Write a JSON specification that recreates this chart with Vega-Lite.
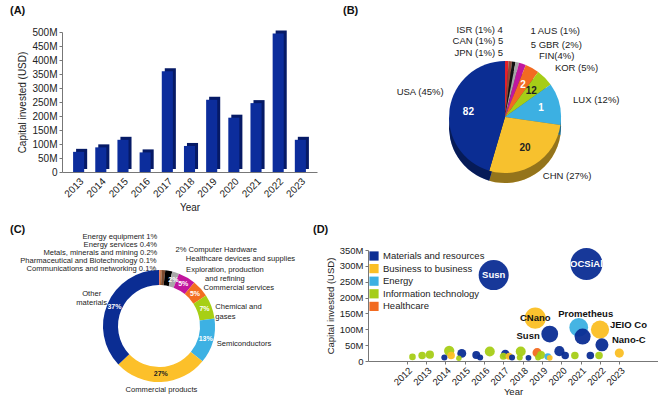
{
  "$schema": "https://vega.github.io/schema/vega-lite/v6.json",
  "background": "white",
  "padding": {"left": 10, "top": 5, "right": 0, "bottom": 0},
  "columns": 2,
  "spacing": {"row": 48, "column": 51},
  "bounds": "flush",
  "resolve": {
    "scale": {"color": "independent", "theta": "independent", "size": "independent", "x": "independent", "y": "independent"},
    "legend": {"color": "independent", "size": "independent"}
  },
  "datasets": {
    "bars": [
      {"year": "2013", "capital": 72},
      {"year": "2014", "capital": 88},
      {"year": "2015", "capital": 115},
      {"year": "2016", "capital": 70},
      {"year": "2017", "capital": 360},
      {"year": "2018", "capital": 93},
      {"year": "2019", "capital": 258},
      {"year": "2020", "capital": 194},
      {"year": "2021", "capital": 246},
      {"year": "2022", "capital": 495},
      {"year": "2023", "capital": 115}
    ],
    "countries": [
      {"country": "JPN", "share": 1, "deals": 5, "label": "JPN (1%)"},
      {"country": "CAN", "share": 1, "deals": 5, "label": "CAN (1%)"},
      {"country": "ISR", "share": 1, "deals": 4, "label": "ISR (1%)"},
      {"country": "AUS", "share": 1, "deals": 1, "label": "AUS (1%)"},
      {"country": "GBR", "share": 2, "deals": 5, "label": "GBR (2%)"},
      {"country": "FIN", "share": 4, "deals": 2, "label": "FIN(4%)"},
      {"country": "KOR", "share": 5, "deals": 12, "label": "KOR (5%)"},
      {"country": "LUX", "share": 12, "deals": 1, "label": "LUX (12%)"},
      {"country": "CHN", "share": 27, "deals": 20, "label": "CHN (27%)"},
      {"country": "USA", "share": 45, "deals": 82, "label": "USA (45%)"}
    ],
    "sectors": [
      {"sector": "Communications and networking", "share": 0.1, "label": "Communications and networking"},
      {"sector": "Pharmaceutical and Biotechnology", "share": 0.1, "label": "Pharmaceutical and Biotechnology"},
      {"sector": "Metals, minerals and mining", "share": 0.2, "label": "Metals, minerals and mining"},
      {"sector": "Energy services", "share": 0.4, "label": "Energy services"},
      {"sector": "Energy equipment", "share": 1, "label": "Energy equipment"},
      {"sector": "Computer Hardware", "share": 2, "label": "Computer Hardware"},
      {"sector": "Healthcare devices and supplies", "share": 2, "label": "Healthcare devices and supplies"},
      {"sector": "Exploration, production and refining", "share": 5, "label": "Exploration, production\nand refining"},
      {"sector": "Commercial services", "share": 5, "label": "Commercial services"},
      {"sector": "Chemical and gases", "share": 7, "label": "Chemical and\ngases"},
      {"sector": "Semiconductors", "share": 13, "label": "Semiconductors"},
      {"sector": "Commercial products", "share": 27, "label": "Commercial products"},
      {"sector": "Other materials", "share": 37, "label": "Other\nmaterials"}
    ],
    "deals": [
      {"t": 2016.5, "capital": 271, "sector": "Materials and resources", "name": "Susn"},
      {"t": 2021.3, "capital": 306, "sector": "Materials and resources", "name": "OCSiAl"},
      {"t": 2018.65, "capital": 135, "sector": "Business to business", "name": "CNano"},
      {"t": 2019.4, "capital": 85, "sector": "Materials and resources", "name": "Susn"},
      {"t": 2020.9, "capital": 106, "sector": "Energy", "name": "Prometheus"},
      {"t": 2021.1, "capital": 77, "sector": "Materials and resources", "name": ""},
      {"t": 2022.0, "capital": 99, "sector": "Business to business", "name": "JEIO Co"},
      {"t": 2022.1, "capital": 51, "sector": "Materials and resources", "name": "Nano-C"},
      {"t": 2023.0, "capital": 25, "sector": "Business to business", "name": ""},
      {"t": 2012.3, "capital": 13, "sector": "Information technology", "name": ""},
      {"t": 2012.8, "capital": 17, "sector": "Information technology", "name": ""},
      {"t": 2013.2, "capital": 20, "sector": "Information technology", "name": ""},
      {"t": 2013.95, "capital": 11, "sector": "Materials and resources", "name": ""},
      {"t": 2014.2, "capital": 32, "sector": "Information technology", "name": ""},
      {"t": 2014.3, "capital": 17, "sector": "Business to business", "name": ""},
      {"t": 2014.7, "capital": 9, "sector": "Information technology", "name": ""},
      {"t": 2014.85, "capital": 24, "sector": "Materials and resources", "name": ""},
      {"t": 2015.6, "capital": 19, "sector": "Materials and resources", "name": ""},
      {"t": 2015.8, "capital": 11, "sector": "Materials and resources", "name": ""},
      {"t": 2016.3, "capital": 30, "sector": "Information technology", "name": ""},
      {"t": 2017.0, "capital": 15, "sector": "Information technology", "name": ""},
      {"t": 2017.1, "capital": 22, "sector": "Materials and resources", "name": ""},
      {"t": 2017.3, "capital": 15, "sector": "Business to business", "name": ""},
      {"t": 2017.45, "capital": 11, "sector": "Materials and resources", "name": ""},
      {"t": 2017.9, "capital": 30, "sector": "Information technology", "name": ""},
      {"t": 2017.85, "capital": 11, "sector": "Information technology", "name": ""},
      {"t": 2018.3, "capital": 10, "sector": "Materials and resources", "name": ""},
      {"t": 2018.75, "capital": 26, "sector": "Healthcare", "name": ""},
      {"t": 2018.8, "capital": 11, "sector": "Information technology", "name": ""},
      {"t": 2018.95, "capital": 19, "sector": "Information technology", "name": ""},
      {"t": 2019.3, "capital": 14, "sector": "Energy", "name": ""},
      {"t": 2019.4, "capital": 10, "sector": "Business to business", "name": ""},
      {"t": 2019.9, "capital": 31, "sector": "Materials and resources", "name": ""},
      {"t": 2020.2, "capital": 17, "sector": "Materials and resources", "name": ""},
      {"t": 2020.7, "capital": 17, "sector": "Information technology", "name": ""},
      {"t": 2021.5, "capital": 17, "sector": "Materials and resources", "name": ""},
      {"t": 2021.95, "capital": 17, "sector": "Information technology", "name": ""}
    ]
  },
  "concat": [
    {
      "width": 255,
      "height": 140,
      "title": {"text": "(A)", "dx": -52, "offset": 11},
      "data": {"name": "bars"},
      "encoding": {
        "x": {
          "field": "year", "type": "ordinal",
          "scale": {"paddingInner": 0.5, "paddingOuter": 0.5},
          "axis": {"labelAngle": -45, "title": "Year", "ticks": false, "labelPadding": 4, "labelOverlap": false}
        },
        "y": {
          "field": "capital", "type": "quantitative",
          "scale": {"domain": [0, 500]},
          "axis": {
            "values": [0, 50, 100, 150, 200, 250, 300, 350, 400, 450, 500],
            "labelExpr": "datum.value == 0 ? '0' : datum.value + 'M'",
            "title": "Capital invested (USD)", "tickSize": 3
          }
        }
      },
      "layer": [
        {"mark": {"type": "bar", "color": "#061a66", "xOffset": 3, "yOffset": -3}},
        {"mark": {"type": "bar", "color": "#0c2d9c"}}
      ]
    },
    {
      "width": 274,
      "height": 170,
      "title": {"text": "(B)", "dx": -25, "offset": 8},
      "data": {"name": "countries"},
      "transform": [
        {"calculate": "datum.label + '  ' + datum.deals", "as": "leftText"},
        {"calculate": "datum.deals + '  ' + datum.label", "as": "rightText"}
      ],
      "encoding": {
        "theta": {"field": "share", "type": "quantitative", "stack": true},
        "order": {"field": "share", "type": "quantitative", "sort": "ascending"}
      },
      "layer": [
        {
          "mark": {"type": "arc", "outerRadius": 56, "yOffset": 10},
          "encoding": {
            "color": {
              "field": "country", "type": "nominal", "legend": null,
              "scale": {
                "domain": ["JPN", "CAN", "ISR", "AUS", "GBR", "FIN", "KOR", "LUX", "CHN", "USA"],
                "range": ["#e3202a", "#8c4a3a", "#111111", "#a5a5a5", "#c0179f", "#f26b21", "#a6cd17", "#3cb0e2", "#f7c12e", "#0b2d93"]
              }
            }
          }
        },
        {"mark": {"type": "arc", "outerRadius": 56, "yOffset": 10, "color": "black", "opacity": 0.4}},
        {
          "mark": {"type": "arc", "outerRadius": 56},
          "encoding": {
            "color": {"field": "country", "type": "nominal", "legend": null}
          }
        },
        {
          "mark": {"type": "text", "radius": 37, "fontSize": 10, "fontWeight": "bold"},
          "encoding": {
            "text": {"condition": {"test": "datum.share >= 4", "field": "deals", "type": "nominal"}, "value": ""},
            "color": {"condition": {"test": "datum.country == 'CHN' || datum.country == 'KOR'", "value": "#222222"}, "value": "white"}
          }
        },
        {
          "mark": {"type": "text", "radius": 70, "align": "left", "fontSize": 9.5},
          "encoding": {
            "text": {"condition": {"test": "datum.share >= 4 && datum.country != 'USA'", "field": "label", "type": "nominal"}, "value": ""}
          }
        },
        {
          "mark": {"type": "text", "radius": 62, "align": "right", "dy": -16, "fontSize": 9.5},
          "encoding": {
            "text": {"condition": {"test": "datum.country == 'USA'", "field": "label", "type": "nominal"}, "value": ""}
          }
        },
        {
          "mark": {"type": "text", "radius": 64, "align": "right", "dx": -4, "fontSize": 9.5},
          "encoding": {
            "text": {"condition": {"test": "datum.country == 'JPN'", "field": "leftText", "type": "nominal"}, "value": ""}
          }
        },
        {
          "mark": {"type": "text", "radius": 76, "align": "right", "dx": -9, "fontSize": 9.5},
          "encoding": {
            "text": {"condition": {"test": "datum.country == 'CAN'", "field": "leftText", "type": "nominal"}, "value": ""}
          }
        },
        {
          "mark": {"type": "text", "radius": 88, "align": "right", "dx": -16, "fontSize": 9.5},
          "encoding": {
            "text": {"condition": {"test": "datum.country == 'ISR'", "field": "leftText", "type": "nominal"}, "value": ""}
          }
        },
        {
          "mark": {"type": "text", "radius": 88, "align": "left", "dx": 6, "fontSize": 9.5},
          "encoding": {
            "text": {"condition": {"test": "datum.country == 'AUS'", "field": "rightText", "type": "nominal"}, "value": ""}
          }
        },
        {
          "mark": {"type": "text", "radius": 76, "align": "left", "dx": 2, "fontSize": 9.5},
          "encoding": {
            "text": {"condition": {"test": "datum.country == 'GBR'", "field": "rightText", "type": "nominal"}, "value": ""}
          }
        }
      ]
    },
    {
      "width": 194,
      "height": 152,
      "title": {"text": "(C)", "dx": -52, "offset": 16, "dy": 18},
      "data": {"name": "sectors"},
      "transform": [
        {"calculate": "datum.share + '%'", "as": "pctText"},
        {"calculate": "datum.label + ' ' + datum.share + '%'", "as": "full"},
        {"calculate": "datum.share + '%  ' + datum.label", "as": "pre"}
      ],
      "encoding": {
        "theta": {"field": "share", "type": "quantitative", "stack": true},
        "order": {"field": "share", "type": "quantitative", "sort": "ascending"}
      },
      "layer": [
        {
          "mark": {"type": "arc", "outerRadius": 56, "innerRadius": 41},
          "encoding": {
            "color": {
              "field": "sector", "type": "nominal", "legend": null,
              "scale": {
                "domain": ["Communications and networking", "Pharmaceutical and Biotechnology", "Metals, minerals and mining", "Energy services", "Energy equipment", "Computer Hardware", "Healthcare devices and supplies", "Exploration, production and refining", "Commercial services", "Chemical and gases", "Semiconductors", "Commercial products", "Other materials"],
                "range": ["#e8451e", "#f28e2b", "#c8202a", "#b0602a", "#7b4a2e", "#000000", "#a8a8a8", "#c2169e", "#f36e21", "#a7cf15", "#3db1e3", "#fcc02a", "#0b2d93"]
              }
            }
          }
        },
        {
          "mark": {"type": "text", "radius": 48.5, "fontSize": 7, "fontWeight": "bold"},
          "encoding": {
            "text": {"condition": {"test": "datum.share >= 2 && datum.sector != 'Computer Hardware'", "field": "pctText", "type": "nominal"}, "value": ""},
            "color": {"condition": {"test": "datum.sector == 'Commercial products'", "value": "#222222"}, "value": "white"}
          }
        },
        {
          "mark": {"type": "text", "radius": 89, "dx": -9, "align": "right", "fontSize": 7.6},
          "encoding": {"text": {"condition": {"test": "datum.sector == 'Energy equipment'", "field": "full", "type": "nominal"}, "value": ""}}
        },
        {
          "mark": {"type": "text", "radius": 81, "dx": -5, "align": "right", "fontSize": 7.6},
          "encoding": {"text": {"condition": {"test": "datum.sector == 'Energy services'", "field": "full", "type": "nominal"}, "value": ""}}
        },
        {
          "mark": {"type": "text", "radius": 73, "dx": -3, "align": "right", "fontSize": 7.6},
          "encoding": {"text": {"condition": {"test": "datum.sector == 'Metals, minerals and mining'", "field": "full", "type": "nominal"}, "value": ""}}
        },
        {
          "mark": {"type": "text", "radius": 65, "dx": -3, "align": "right", "fontSize": 7.6},
          "encoding": {"text": {"condition": {"test": "datum.sector == 'Pharmaceutical and Biotechnology'", "field": "full", "type": "nominal"}, "value": ""}}
        },
        {
          "mark": {"type": "text", "radius": 57, "dx": -3, "align": "right", "fontSize": 7.6},
          "encoding": {"text": {"condition": {"test": "datum.sector == 'Communications and networking'", "field": "full", "type": "nominal"}, "value": ""}}
        },
        {
          "mark": {"type": "text", "radius": 77, "dx": 3, "align": "left", "fontSize": 7.6},
          "encoding": {"text": {"condition": {"test": "datum.sector == 'Computer Hardware'", "field": "pre", "type": "nominal"}, "value": ""}}
        },
        {
          "mark": {"type": "text", "radius": 70, "dx": 6, "align": "left", "fontSize": 7.6},
          "encoding": {"text": {"condition": {"test": "datum.sector == 'Healthcare devices and supplies'", "field": "label", "type": "nominal"}, "value": ""}}
        },
        {
          "mark": {"type": "text", "radius": 60, "dx": 36, "dy": -4, "align": "center", "fontSize": 7.6, "lineHeight": 9, "lineBreak": "\n"},
          "encoding": {"text": {"condition": {"test": "datum.sector == 'Exploration, production and refining'", "field": "label", "type": "nominal"}, "value": ""}}
        },
        {
          "mark": {"type": "text", "radius": 60, "dy": 2, "align": "left", "fontSize": 7.6, "lineHeight": 9.5, "lineBreak": "\n"},
          "encoding": {"text": {"condition": {"test": "datum.sector == 'Commercial services' || datum.sector == 'Chemical and gases' || datum.sector == 'Semiconductors'", "field": "label", "type": "nominal"}, "value": ""}}
        },
        {
          "mark": {"type": "text", "radius": 64, "align": "center", "fontSize": 7.6},
          "encoding": {"text": {"condition": {"test": "datum.sector == 'Commercial products'", "field": "label", "type": "nominal"}, "value": ""}}
        },
        {
          "mark": {"type": "text", "radius": 70, "dx": -3, "dy": -4, "align": "center", "fontSize": 7.6, "lineHeight": 9, "lineBreak": "\n"},
          "encoding": {"text": {"condition": {"test": "datum.sector == 'Other materials'", "field": "label", "type": "nominal"}, "value": ""}}
        }
      ]
    },
    {
      "width": 290,
      "height": 111,
      "title": {"text": "(D)", "dx": -55, "offset": 10},
      "data": {"name": "deals"},
      "encoding": {
        "x": {
          "field": "t", "type": "quantitative",
          "scale": {"domain": [2010, 2025], "nice": false, "zero": false},
          "axis": {
            "values": [2012, 2013, 2014, 2015, 2016, 2017, 2018, 2019, 2020, 2021, 2022, 2023],
            "format": "d", "labelAngle": -45, "title": "Year", "tickSize": 3, "labelOverlap": false,
            "labelFontSize": 9.5, "titleFontSize": 9.5, "labelPadding": 1, "titlePadding": 0
          }
        },
        "y": {
          "field": "capital", "type": "quantitative",
          "scale": {"domain": [0, 350]},
          "axis": {
            "values": [0, 50, 100, 150, 200, 250, 300, 350],
            "labelExpr": "datum.value == 0 ? '0' : datum.value + 'M'",
            "title": "Capital invested (USD)", "tickSize": 3,
            "labelFontSize": 9.5, "titleFontSize": 9.5
          }
        }
      },
      "layer": [
        {
          "mark": {"type": "circle", "opacity": 0.95},
          "encoding": {
            "size": {"field": "capital", "type": "quantitative", "scale": {"domain": [0, 300], "range": [0, 1000]}, "legend": null},
            "color": {
              "field": "sector", "type": "nominal",
              "scale": {
                "domain": ["Materials and resources", "Business to business", "Energy", "Information technology", "Healthcare"],
                "range": ["#0b2d93", "#fbbf24", "#3cb0e2", "#a6cd17", "#f26b21"]
              },
              "legend": {
                "orient": "top-left", "offset": 1, "padding": 0, "title": null,
                "symbolType": "square", "symbolSize": 85, "symbolStrokeWidth": 0, "symbolOpacity": 1,
                "labelFontSize": 9.5, "labelColor": "#222222", "rowPadding": 2.6, "labelOffset": 4, "labelLimit": 250
              }
            },
            "order": {"field": "capital", "type": "quantitative", "sort": "descending"}
          }
        },
        {
          "transform": [{"filter": "datum.capital > 200"}],
          "mark": {"type": "text", "color": "white", "fontWeight": "bold", "fontSize": 9.5},
          "encoding": {"text": {"field": "name", "type": "nominal"}}
        },
        {
          "transform": [{"filter": "datum.name == 'CNano'"}],
          "mark": {"type": "text", "color": "#111111", "fontWeight": "bold", "fontSize": 9.5},
          "encoding": {"text": {"field": "name", "type": "nominal"}}
        },
        {
          "transform": [{"filter": "datum.name == 'Prometheus'"}],
          "mark": {"type": "text", "color": "#111111", "fontWeight": "bold", "fontSize": 9.5, "dx": 7, "dy": -13},
          "encoding": {"text": {"field": "name", "type": "nominal"}}
        },
        {
          "transform": [{"filter": "datum.name == 'JEIO Co' || datum.name == 'Nano-C'"}],
          "mark": {"type": "text", "color": "#111111", "fontWeight": "bold", "fontSize": 9.5, "align": "left", "dx": 10, "dy": -5},
          "encoding": {"text": {"field": "name", "type": "nominal"}}
        },
        {
          "transform": [{"filter": "datum.name == 'Susn' && datum.capital < 200"}],
          "mark": {"type": "text", "color": "#111111", "fontWeight": "bold", "fontSize": 9.5, "align": "right", "dx": -10, "dy": 2},
          "encoding": {"text": {"field": "name", "type": "nominal"}}
        }
      ]
    }
  ],
  "config": {
    "font": "Liberation Sans",
    "view": {"stroke": null},
    "axis": {
      "grid": false, "labelColor": "#222222", "titleColor": "#222222", "titleFontWeight": "normal",
      "domainColor": "#777777", "tickColor": "#777777", "labelFontSize": 10, "titleFontSize": 10
    },
    "title": {"fontSize": 11, "fontWeight": "bold", "anchor": "start", "frame": "group", "offset": 16, "color": "#111111"},
    "text": {"color": "#222222"}
  }
}
